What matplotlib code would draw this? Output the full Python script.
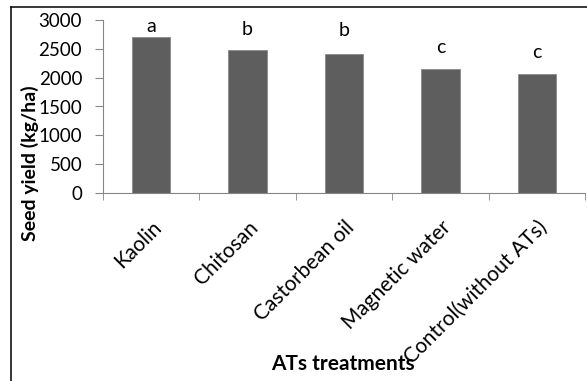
import matplotlib
matplotlib.use("Agg")
import matplotlib.pyplot as plt
import matplotlib.transforms as mtransforms
from matplotlib.lines import Line2D

plt.rcParams['font.family'] = ['Lato', 'DejaVu Sans']

# data
treatments = ['Kaolin', 'Chitosan', 'Castorbean oil', 'Magnetic water', 'Control(without ATs)']
seed_yield = [2700, 2480, 2410, 2150, 2060]
groups = ['a', 'b', 'b', 'c', 'c']
group_y = [2880, 2830, 2810, 2530, 2430]   # height of the letters
yticks = [0, 500, 1000, 1500, 2000, 2500, 3000]

fig = plt.figure(figsize=(5.87, 3.81), dpi=100)
ax = fig.add_axes([103 / 587, 1 - 193 / 381, 482 / 587, 173 / 381])

x = list(range(len(treatments)))
ax.bar(x, seed_yield, width=0.4, color='#5e5e5e', edgecolor='#8a8a8a', linewidth=0.6)

for xi, g, gy in zip(x, groups, group_y):
    ax.text(xi, gy, g, ha='center', va='center', fontsize=14)

ax.set_xlim(-0.5, len(treatments) - 0.5)
ax.set_ylim(0, 3000)
ax.set_yticks(yticks)
ax.set_xticks(x)
ax.set_xticks([i - 0.5 for i in range(len(treatments) + 1)], minor=True)

ax.set_xticklabels(treatments, rotation=45, ha='right', va='top',
                   rotation_mode='anchor', fontsize=15)
offset = mtransforms.ScaledTranslation(0.04, 0, fig.dpi_scale_trans)
for lab in ax.get_xticklabels():
    lab.set_transform(lab.get_transform() + offset)

ax.tick_params(axis='x', which='major', length=0, pad=17.5)
ax.tick_params(axis='x', which='minor', length=5, color='#868686')
ax.tick_params(axis='y', length=5.5, color='#868686', labelsize=13.5, pad=9.5)

for s in ['top', 'right']:
    ax.spines[s].set_visible(False)
for s in ['left', 'bottom']:
    ax.spines[s].set_color('#868686')

ax.set_ylabel('Seed yield (kg/ha)', fontsize=14, fontweight='bold', va='center')
ax.yaxis.set_label_coords(-0.152, 0.173)
ax.set_xlabel('ATs treatments', fontsize=15, fontweight='bold', va='center')
ax.xaxis.set_label_coords(0.498, -0.988)

# outer chart frame, only the left and top edges show
fig.add_artist(Line2D([11 / 587, 11 / 587], [0, 1 - 7 / 381], transform=fig.transFigure,
                      color='black', linewidth=1.1))
fig.add_artist(Line2D([11 / 587, 1], [1 - 7 / 381, 1 - 7 / 381], transform=fig.transFigure,
                      color='black', linewidth=1.1))

fig.savefig('out.png', dpi=100)
